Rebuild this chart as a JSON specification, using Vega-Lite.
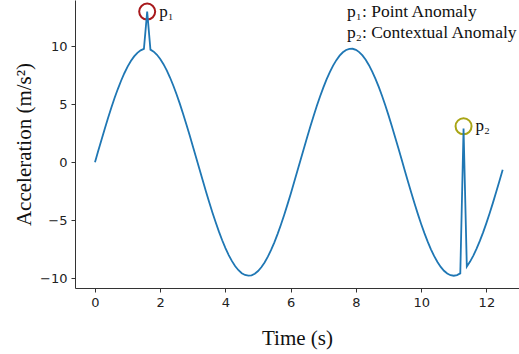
{
  "$schema": "https://vega.github.io/schema/vega-lite/v6.json",
  "width": 444,
  "height": 288,
  "autosize": {"type": "none"},
  "padding": {"left": 75, "top": 0, "right": 0, "bottom": 66},
  "background": "white",
  "config": {
    "view": {"stroke": null},
    "axis": {
      "grid": false,
      "domainColor": "#333",
      "domainWidth": 1,
      "tickColor": "#333",
      "tickSize": 4,
      "labelFont": "DejaVu Sans",
      "labelFontSize": 13,
      "labelColor": "#222",
      "titleFont": "Liberation Serif",
      "titleFontSize": 21,
      "titleFontWeight": "normal",
      "titleColor": "#111"
    }
  },
  "datasets": {
    "signal": [
      {"t": 0.0, "a": 0.0}, {"t": 0.1, "a": 0.978}, {"t": 0.2, "a": 1.947}, {"t": 0.3, "a": 2.896},
      {"t": 0.4, "a": 3.816}, {"t": 0.5, "a": 4.698}, {"t": 0.6, "a": 5.534}, {"t": 0.7, "a": 6.313},
      {"t": 0.8, "a": 7.030}, {"t": 0.9, "a": 7.677}, {"t": 1.0, "a": 8.246}, {"t": 1.1, "a": 8.734},
      {"t": 1.2, "a": 9.134}, {"t": 1.3, "a": 9.443}, {"t": 1.4, "a": 9.657}, {"t": 1.5, "a": 9.775},
      {"t": 1.6, "a": 13.0}, {"t": 1.7, "a": 9.718}, {"t": 1.8, "a": 9.544}, {"t": 1.9, "a": 9.274},
      {"t": 2.0, "a": 8.911}, {"t": 2.1, "a": 8.459}, {"t": 2.2, "a": 7.923}, {"t": 2.3, "a": 7.308},
      {"t": 2.4, "a": 6.620}, {"t": 2.5, "a": 5.865}, {"t": 2.6, "a": 5.052}, {"t": 2.7, "a": 4.188},
      {"t": 2.8, "a": 3.283}, {"t": 2.9, "a": 2.345}, {"t": 3.0, "a": 1.383}, {"t": 3.1, "a": 0.407},
      {"t": 3.2, "a": -0.572}, {"t": 3.3, "a": -1.546}, {"t": 3.4, "a": -2.504}, {"t": 3.5, "a": -3.438},
      {"t": 3.6, "a": -4.337}, {"t": 3.7, "a": -5.192}, {"t": 3.8, "a": -5.996}, {"t": 3.9, "a": -6.740},
      {"t": 4.0, "a": -7.417}, {"t": 4.1, "a": -8.019}, {"t": 4.2, "a": -8.541}, {"t": 4.3, "a": -8.978},
      {"t": 4.4, "a": -9.326}, {"t": 4.5, "a": -9.580}, {"t": 4.6, "a": -9.738}, {"t": 4.7, "a": -9.799},
      {"t": 4.8, "a": -9.762}, {"t": 4.9, "a": -9.628}, {"t": 5.0, "a": -9.397}, {"t": 5.1, "a": -9.073},
      {"t": 5.2, "a": -8.658}, {"t": 5.3, "a": -8.156}, {"t": 5.4, "a": -7.573}, {"t": 5.5, "a": -6.914},
      {"t": 5.6, "a": -6.186}, {"t": 5.7, "a": -5.397}, {"t": 5.8, "a": -4.553}, {"t": 5.9, "a": -3.664},
      {"t": 6.0, "a": -2.738}, {"t": 6.1, "a": -1.785}, {"t": 6.2, "a": -0.814}, {"t": 6.3, "a": 0.165},
      {"t": 6.4, "a": 1.142}, {"t": 6.5, "a": 2.108}, {"t": 6.6, "a": 3.053}, {"t": 6.7, "a": 3.968},
      {"t": 6.8, "a": 4.842}, {"t": 6.9, "a": 5.669}, {"t": 7.0, "a": 6.438}, {"t": 7.1, "a": 7.144},
      {"t": 7.2, "a": 7.778}, {"t": 7.3, "a": 8.334}, {"t": 7.4, "a": 8.807}, {"t": 7.5, "a": 9.192},
      {"t": 7.6, "a": 9.486}, {"t": 7.7, "a": 9.684}, {"t": 7.8, "a": 9.786}, {"t": 7.9, "a": 9.790},
      {"t": 8.0, "a": 9.696}, {"t": 8.1, "a": 9.505}, {"t": 8.2, "a": 9.219}, {"t": 8.3, "a": 8.841},
      {"t": 8.4, "a": 8.375}, {"t": 8.5, "a": 7.825}, {"t": 8.6, "a": 7.197}, {"t": 8.7, "a": 6.497},
      {"t": 8.8, "a": 5.732}, {"t": 8.9, "a": 4.910}, {"t": 9.0, "a": 4.039}, {"t": 9.1, "a": 3.127},
      {"t": 9.2, "a": 2.184}, {"t": 9.3, "a": 1.220}, {"t": 9.4, "a": 0.243}, {"t": 9.5, "a": -0.736},
      {"t": 9.6, "a": -1.708}, {"t": 9.7, "a": -2.663}, {"t": 9.8, "a": -3.592}, {"t": 9.9, "a": -4.484},
      {"t": 10.0, "a": -5.331}, {"t": 10.1, "a": -6.126}, {"t": 10.2, "a": -6.859}, {"t": 10.3, "a": -7.523},
      {"t": 10.4, "a": -8.113}, {"t": 10.5, "a": -8.621}, {"t": 10.6, "a": -9.043}, {"t": 10.7, "a": -9.375},
      {"t": 10.8, "a": -9.613}, {"t": 10.9, "a": -9.755}, {"t": 11.0, "a": -9.800}, {"t": 11.1, "a": -9.747},
      {"t": 11.2, "a": -9.596}, {"t": 11.3, "a": 2.9}, {"t": 11.4, "a": -9.009}, {"t": 11.5, "a": -8.579},
      {"t": 11.6, "a": -8.064}, {"t": 11.7, "a": -7.468}, {"t": 11.8, "a": -6.797}, {"t": 11.9, "a": -6.058},
      {"t": 12.0, "a": -5.258}, {"t": 12.1, "a": -4.407}, {"t": 12.2, "a": -3.511}, {"t": 12.3, "a": -2.580},
      {"t": 12.4, "a": -1.623}, {"t": 12.5, "a": -0.650}
    ],
    "anomalies": [
      {"t": 1.6, "a": 13.0, "name": "p₁", "kind": "point"},
      {"t": 11.3, "a": 3.1, "name": "p₂", "kind": "contextual"}
    ],
    "notes": [
      {"t": 7.73, "a": 12.95, "label": "p₁: Point Anomaly"},
      {"t": 7.73, "a": 11.15, "label": "p₂: Contextual Anomaly"}
    ]
  },
  "encoding": {
    "x": {
      "field": "t", "type": "quantitative",
      "scale": {"domain": [-0.613, 13.0], "nice": false, "zero": false},
      "axis": {"values": [0, 2, 4, 6, 8, 10, 12], "title": "Time (s)", "titlePadding": 18, "labelPadding": 4}
    },
    "y": {
      "field": "a", "type": "quantitative",
      "scale": {"domain": [-10.86, 14.0], "nice": false, "zero": false},
      "axis": {"values": [-10, -5, 0, 5, 10], "title": "Acceleration (m/s²)", "titlePadding": 5, "labelPadding": 4}
    }
  },
  "layer": [
    {
      "data": {"name": "anomalies"},
      "mark": {"type": "point", "shape": "circle", "filled": false, "size": 256, "strokeWidth": 2, "opacity": 1},
      "encoding": {
        "stroke": {
          "field": "kind", "type": "nominal",
          "scale": {"domain": ["point", "contextual"], "range": ["#a8191c", "#a9a515"]},
          "legend": null
        }
      }
    },
    {
      "data": {"name": "signal"},
      "mark": {"type": "line", "color": "#1f77b4", "strokeWidth": 1.8, "clip": true}
    },
    {
      "data": {"name": "anomalies"},
      "mark": {"type": "text", "align": "left", "baseline": "middle", "dx": 12, "font": "Liberation Serif", "fontSize": 17, "color": "#111"},
      "encoding": {"text": {"field": "name"}}
    },
    {
      "data": {"name": "notes"},
      "mark": {"type": "text", "align": "left", "baseline": "middle", "font": "Liberation Serif", "fontSize": 17.5, "color": "#111"},
      "encoding": {"text": {"field": "label"}}
    }
  ]
}
